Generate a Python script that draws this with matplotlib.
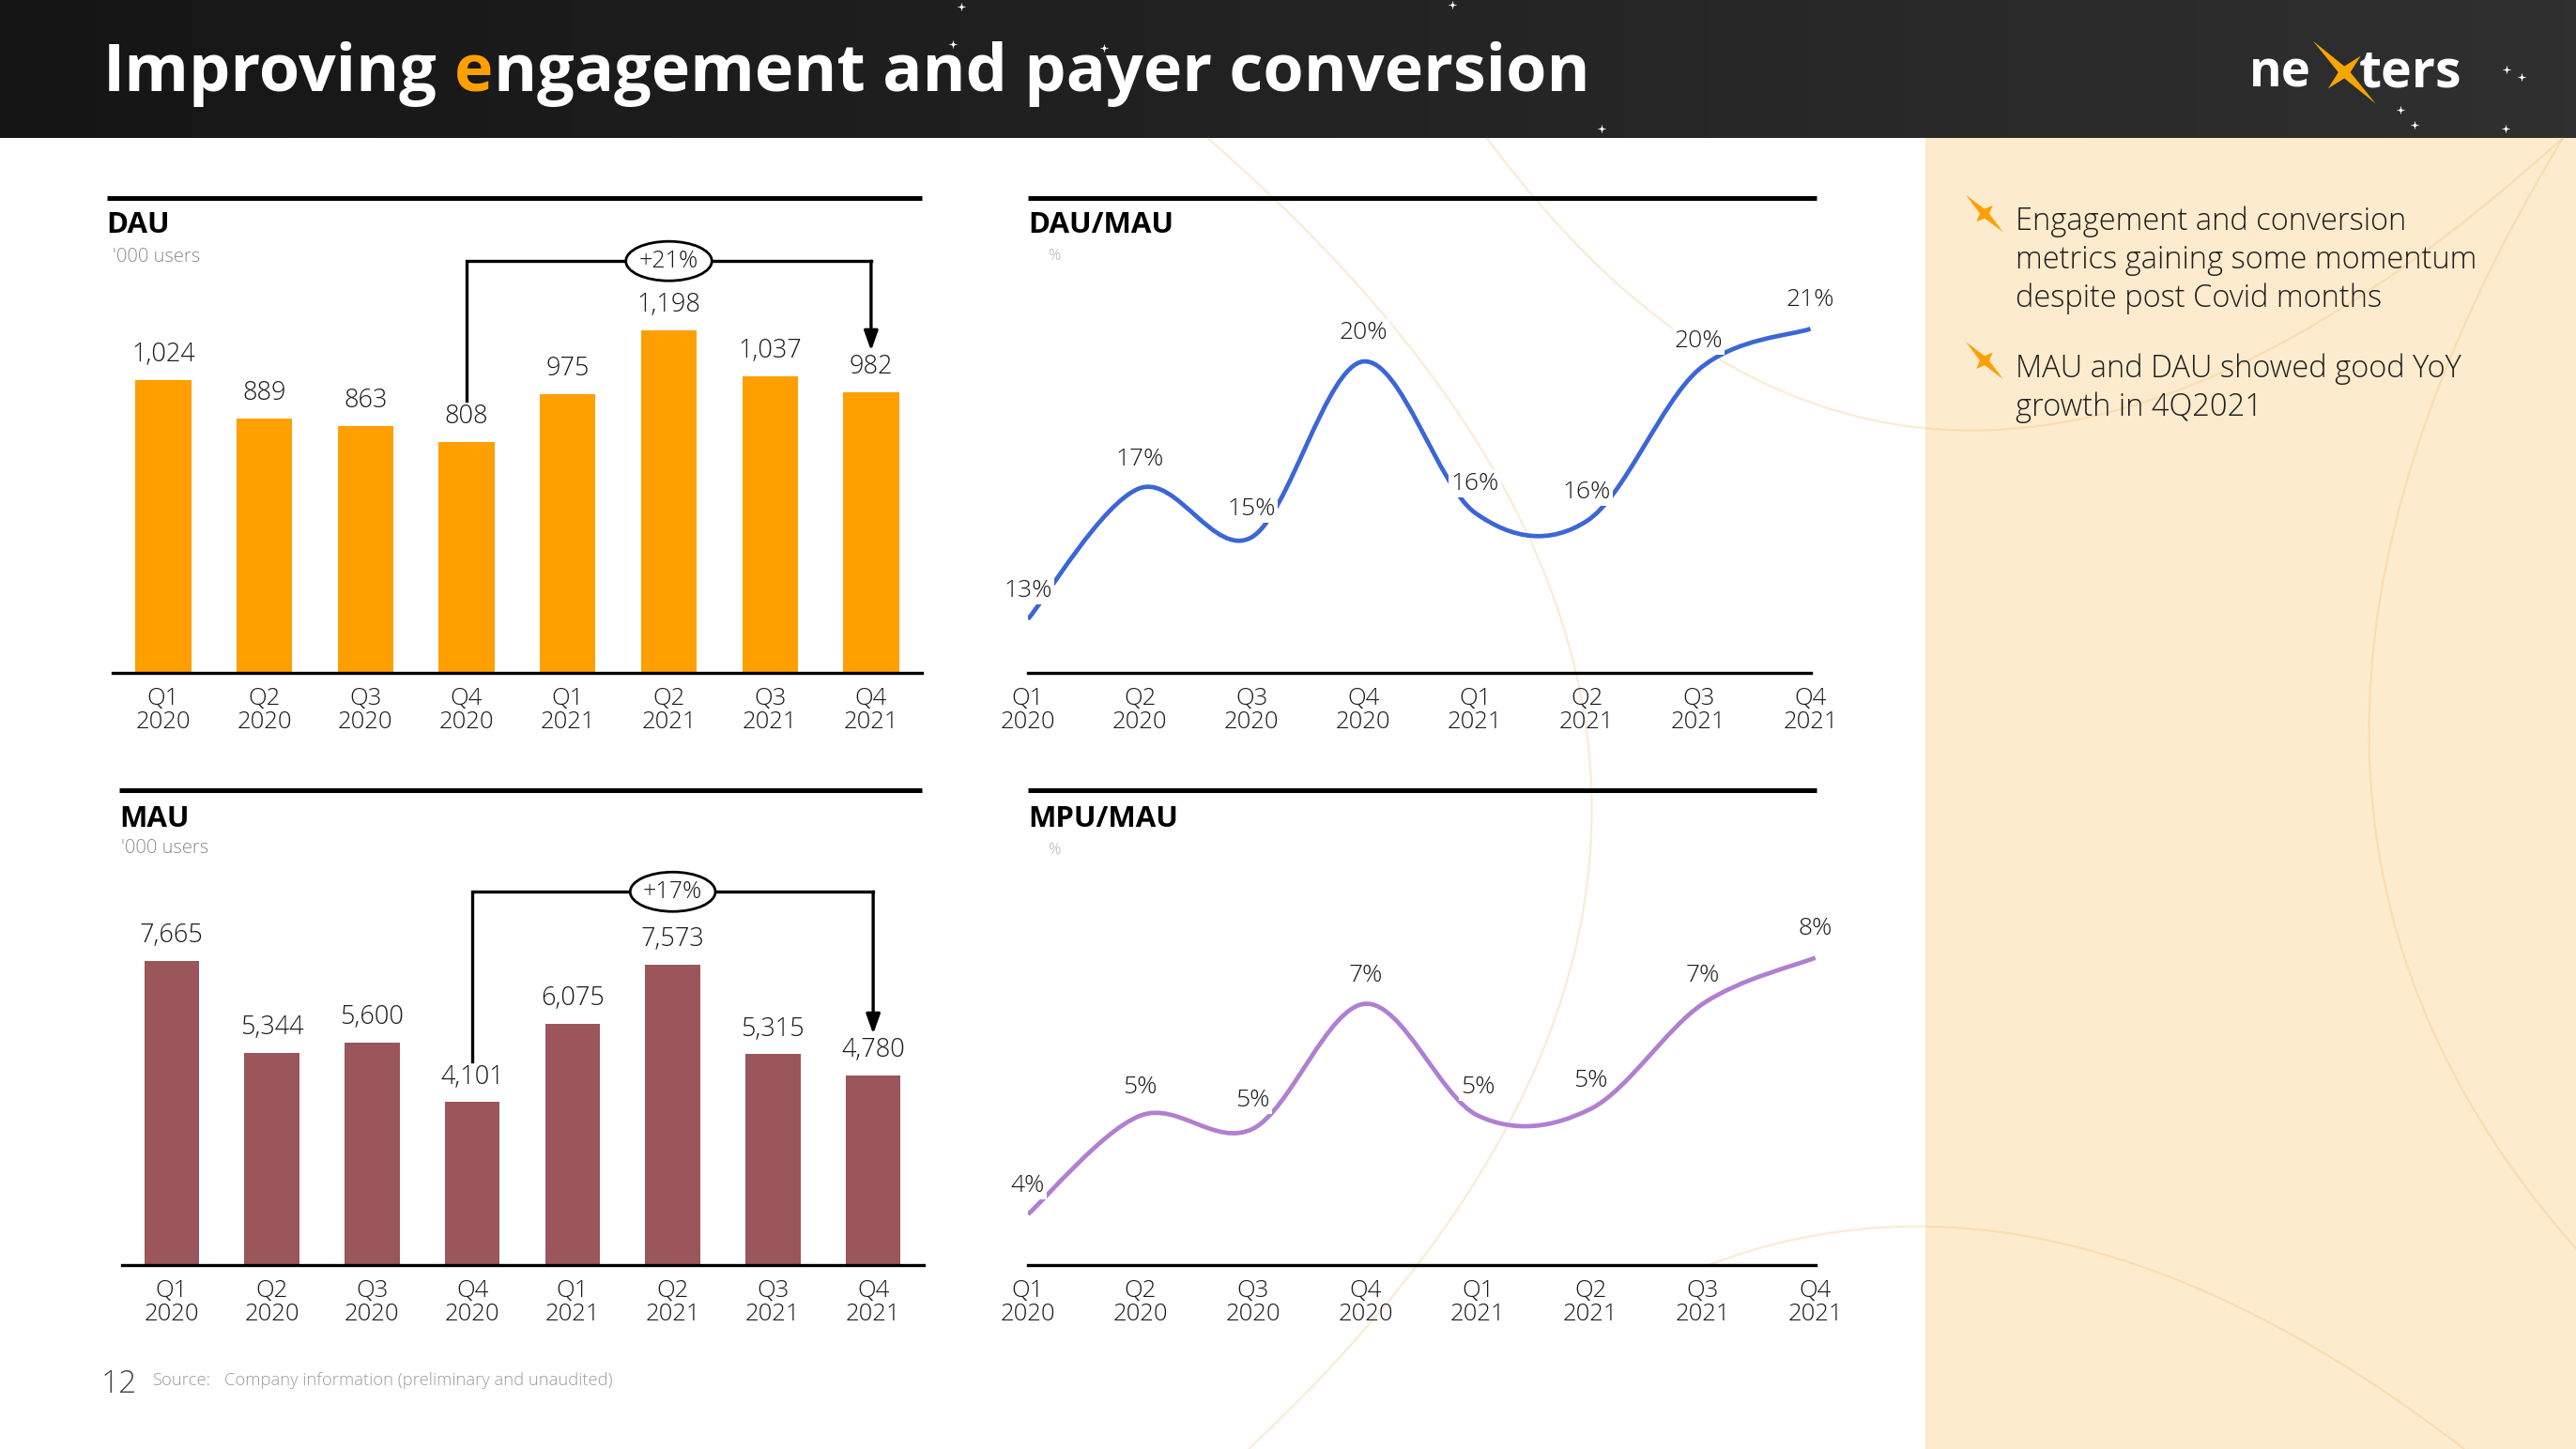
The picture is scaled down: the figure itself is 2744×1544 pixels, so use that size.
import numpy as np
import matplotlib.pyplot as plt
from matplotlib.colors import LinearSegmentedColormap
from matplotlib.patches import Rectangle, Ellipse, Polygon, PathPatch
from matplotlib.path import Path

# ---- data ----
quarters = ["Q1\n2020", "Q2\n2020", "Q3\n2020", "Q4\n2020",
            "Q1\n2021", "Q2\n2021", "Q3\n2021", "Q4\n2021"]
dau = [1024, 889, 863, 808, 975, 1198, 1037, 982]          # '000 users
mau = [7665, 5344, 5600, 4101, 6075, 7573, 5315, 4780]     # '000 users
dau_mau = [13.4, 16.6, 15.4, 19.7, 16.0, 15.8, 19.5, 20.5] # %
mpu_mau = [3.8, 5.3, 5.1, 7.0, 5.3, 5.4, 7.0, 7.7]         # %
dau_growth = "+21%"
mau_growth = "+17%"
bullets = ["Engagement and conversion\nmetrics gaining some momentum\ndespite post Covid months",
           "MAU and DAU showed good YoY\ngrowth in 4Q2021"]

W, H, S = 2744, 1544, 1.75   # S: slide px -> output px
ORANGE = "#FF9F00"
WINE = "#9A565B"
BLUE = "#3B66D6"
LILAC = "#B07FD1"
BEIGE = "#FDEBCD"
INK = "#1a1a1a"

plt.rcParams['font.family'] = ['Open Sans', 'DejaVu Sans']

fig = plt.figure(figsize=(W / 100, H / 100), dpi=100)
fig.patch.set_facecolor('white')
renderer = fig.canvas.get_renderer()


def rect(x0, y0, x1, y1):
    return [x0 * S / W, 1 - y1 * S / H, (x1 - x0) * S / W, (y1 - y0) * S / H]


# background layer in slide coordinates (y down)
bg = fig.add_axes([0, 0, 1, 1], zorder=0)
grad = np.linspace(0, 1, 256)[None, :]
bg.imshow(grad, extent=(0, 1568, 83.8, 0), aspect='auto',
          cmap=LinearSegmentedColormap.from_list('hdr', ['#151515', '#303030']), zorder=0)
bg.add_patch(Rectangle((1172, 83.8), 400, 800, fc=BEIGE, ec='none', zorder=0))
bg.set_xlim(0, 1568)
bg.set_ylim(882, 0)
bg.axis('off')

# faint decorative arcs
arcs = [[(735, 84), (1190, 480), (760, 882)],
        [(905, 84), (1168, 440), (1560, 84)],
        [(1560, 84), (1320, 480), (1568, 760)],
        [(1040, 770), (1250, 690), (1500, 882)]]
for a in arcs:
    bg.add_patch(PathPatch(Path(a, [Path.MOVETO, Path.CURVE3, Path.CURVE3]),
                           fill=False, ec='#F3BD74', alpha=0.3, lw=1.6, zorder=1))

# stars in the header
stars = [(585, 4), (580, 27), (672, 29), (975, 78), (884, 3), (1461, 67),
         (1470, 76), (1526, 42), (1535, 47), (1525, 78)]
for sx, sy in stars:
    bg.plot(sx, sy, marker='+', ms=6, mew=0.8, color='white', alpha=0.8, zorder=2)
    bg.plot(sx, sy, marker='o', ms=1.6, color='white', zorder=2)


def star(cx, cy, long_arm, short_arm, waist, color):
    d1 = np.array([1, 1]) / np.sqrt(2)
    d2 = np.array([1, -1]) / np.sqrt(2)
    c = np.array([cx, cy])
    pts = [c + d1 * long_arm, c + (d1 + d2) * waist, c + d2 * short_arm,
           c + (d2 - d1) * waist, c - d1 * long_arm, c - (d1 + d2) * waist,
           c - d2 * short_arm, c + (d1 - d2) * waist]
    bg.add_patch(Polygon(pts, closed=True, fc=color, ec='none', zorder=3))


# title with an orange "e"
def width_of(s, **kw):
    t = bg.text(0, 0, s, **kw)
    w = t.get_window_extent(renderer).width / S
    t.remove()
    return w


tkw = dict(fontsize=50.5, fontweight='bold', va='baseline')
x0, yb = 63, 55.6
bg.text(x0, yb, "Improving", color='white', **tkw)
xe = x0 + width_of("Improving e", **tkw) - width_of("e", **tkw)
bg.text(xe, yb, "e", color=ORANGE, **tkw)
xn = x0 + width_of("Improving en", **tkw) - width_of("n", **tkw)
bg.text(xn, yb, "ngagement and payer conversion", color='white', **tkw)

# logo
bg.text(1407, 53, "ne", color='white', fontsize=38, fontweight='bold', ha='right', va='baseline')
bg.text(1436, 53, "ters", color='white', fontsize=40, fontweight='bold', ha='left', va='baseline')
star(1427, 44, 27, 14, 2.6, '#F7A600')

# panel rules and titles
for (a, b, y) in [(65, 561, 120.3), (625.7, 1106, 120.3), (72.6, 561, 481), (625.7, 1106, 481)]:
    bg.plot([a, b], [y, y], color='black', lw=3.6, solid_capstyle='butt', zorder=3)

hk = dict(fontsize=22.5, fontweight='bold', color='black', va='baseline')
sk = dict(fontsize=14.5, fontweight='light', color='#8a8a8a', va='baseline')
bg.text(65, 141.8, "DAU", **hk)
bg.text(68.5, 159.6, "'000 users", **sk)
bg.text(72.5, 503, "MAU", **hk)
bg.text(73.5, 519, "'000 users", **sk)
bg.text(626, 141.6, "DAU/MAU", **hk)
bg.text(638, 158, "%", **dict(sk, color='#b0b0b0', fontsize=12))
bg.text(626, 503, "MPU/MAU", **hk)
bg.text(638, 520, "%", **dict(sk, color='#b0b0b0', fontsize=12))

# right-hand comments
line_gap = 23.3
for first, txt in zip([140, 229.5], bullets):
    star(1208, first - 10, 16, 7, 2.0, ORANGE)
    for k, ln in enumerate(txt.split("\n")):
        bg.text(1227, first + k * line_gap, ln, fontsize=23.5, fontweight='light',
                color='#1e1e1e', va='baseline')

# footer
bg.text(61.7, 847.6, "12", fontsize=24, fontweight='light', color='#4a4a4a', va='baseline')
bg.text(92.5, 843, "Source:", fontsize=13.2, fontweight='light', color='#9a9a9a', va='baseline')
bg.text(136.7, 843, "Company information (preliminary and unaudited)", fontsize=13.2,
        fontweight='light', color='#9a9a9a', va='baseline')


def style_axis(ax):
    ax.set_facecolor('none')
    for s in ['top', 'right', 'left']:
        ax.spines[s].set_visible(False)
    ax.spines['bottom'].set_linewidth(2.4)
    ax.set_yticks([])
    ax.set_xticks(range(len(quarters)), quarters)
    ax.tick_params(axis='x', length=0, pad=11, labelsize=18.5, labelcolor=INK)
    for t in ax.get_xticklabels():
        t.set_linespacing(1.0)
        t.set_fontweight('light')


def bar_panel(box, vals, color, ytop, growth):
    ax = fig.add_axes(rect(*box), zorder=1)
    x = np.arange(len(vals))
    bars = ax.bar(x, vals, width=0.55, color=color, zorder=2)
    ax.bar_label(bars, labels=[f"{v:,}" for v in vals], padding=9,
                 fontsize=19.5, fontweight='light', color=INK)
    ax.set_xlim(-0.5, len(vals) - 0.5)
    ax.set_ylim(0, ytop)
    style_axis(ax)
    upp = ytop / (box[3] - box[1])      # data units per slide px
    i0, i1, im = 3, 7, 5
    yb = max(vals) + 42 * upp
    ax.plot([i0, i0, i1], [vals[i0] + 25 * upp, yb, yb], color='black', lw=2.4,
            solid_joinstyle='miter', zorder=3)
    ax.annotate('', xy=(i1, vals[i1] + 25 * upp), xytext=(i1, yb),
                arrowprops=dict(arrowstyle='-|>,head_length=0.45,head_width=0.16',
                                mutation_scale=28, lw=2.4, color='black',
                                shrinkA=0, shrinkB=0), zorder=3)
    ax.add_patch(Ellipse((im, yb), 0.85, 24 * upp, fc='white', ec='black', lw=2, zorder=4))
    ax.text(im, yb, growth, ha='center', va='center', fontsize=18, fontweight='light',
            color=INK, zorder=5)
    return ax


def smooth_path(xs, ys):
    pts = np.column_stack([xs, ys]).astype(float)
    ext = np.vstack([pts[0], pts, pts[-1]])
    verts, codes = [pts[0]], [Path.MOVETO]
    for i in range(len(pts) - 1):
        p0, p1, p2, p3 = ext[i], ext[i + 1], ext[i + 2], ext[i + 3]
        verts += [p1 + (p2 - p0) / 6, p2 - (p3 - p1) / 6, p2]
        codes += [Path.CURVE4] * 3
    return Path(verts, codes)


def line_panel(box, vals, color, ylim):
    ax = fig.add_axes(rect(*box), zorder=1)
    x = np.arange(len(vals))
    ax.add_patch(PathPatch(smooth_path(x, vals), fill=False, ec=color, lw=3.4,
                           capstyle='butt', zorder=2))
    for i, v in enumerate(vals):
        ax.annotate(f"{int(v + 0.5)}%", (i, v), xytext=(0, 22), textcoords='offset points',
                    ha='center', va='center', fontsize=19, fontweight='light', color=INK,
                    bbox=dict(fc='white', ec='none', pad=1.5), zorder=3)
    ax.set_xlim(0, len(vals) - 1)
    ax.set_ylim(*ylim)
    style_axis(ax)
    return ax


bar_panel((68.6, 120, 561, 409.6), dau, ORANGE, 1663, dau_growth)
bar_panel((74, 481, 562, 770), mau, WINE, 11974, mau_growth)
line_panel((625.7, 120, 1102, 409.6), dau_mau, BLUE, (12.09, 23.72))
line_panel((625.7, 481, 1105, 770.4), mpu_mau, LILAC, (3.025, 10.25))

fig.savefig("out.png", dpi=100, facecolor=fig.get_facecolor())
